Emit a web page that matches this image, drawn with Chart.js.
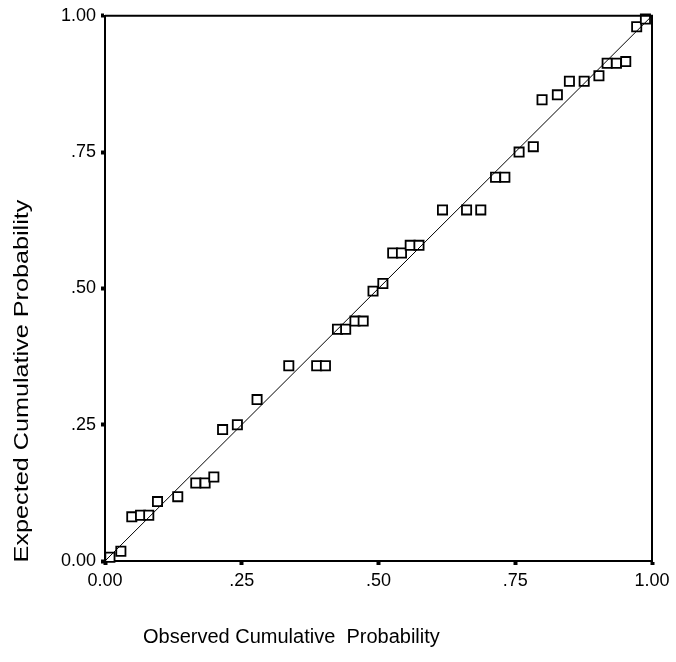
<!DOCTYPE html>
<html>
<head>
<meta charset="utf-8">
<script src="https://cdn.jsdelivr.net/npm/chart.js@4/dist/chart.umd.min.js"></script>
<style>
  html, body { margin: 0; padding: 0; background: #fff; }
  #wrap { width: 676px; height: 662px; position: relative; }
</style>
</head>
<body>
<div id="wrap"><canvas id="ppPlot"></canvas></div>
<script>
// Observed vs expected cumulative probability (P-P plot)
const observed = [
  0.009, 0.029, 0.049, 0.065, 0.080, 0.096, 0.133, 0.166, 0.183, 0.199,
  0.215, 0.242, 0.278, 0.336, 0.387, 0.403, 0.425, 0.440, 0.457, 0.472,
  0.490, 0.508, 0.526, 0.542, 0.558, 0.574, 0.617, 0.661, 0.687, 0.714,
  0.731, 0.757, 0.783, 0.799, 0.827, 0.849, 0.876, 0.903, 0.918, 0.935,
  0.952, 0.972, 0.988
];
const expected = [
  0.007, 0.018, 0.081, 0.084, 0.084, 0.109, 0.118, 0.143, 0.143, 0.154,
  0.241, 0.250, 0.296, 0.358, 0.358, 0.358, 0.425, 0.425, 0.440, 0.440,
  0.495, 0.509, 0.565, 0.565, 0.579, 0.579, 0.644, 0.644, 0.644, 0.704,
  0.704, 0.750, 0.760, 0.846, 0.855, 0.880, 0.880, 0.890, 0.913, 0.913,
  0.916, 0.980, 0.994
];
const tickLabels = ['0.00', '.25', '.50', '.75', '1.00'];
const xTitle = 'Observed Cumulative  Probability';
const yTitle = 'Expected Cumulative Probability';

const FONT = '"Liberation Sans", Arial, sans-serif';

const points = observed.map((x, i) => ({ x: x, y: expected[i] }));

// frame top/right edges and the axis titles sit outside what the scales draw
const framePlugin = {
    id: 'frameAndTitles',
    afterDraw(chart) {
        const { ctx, chartArea: a } = chart;
        ctx.save();
        ctx.strokeStyle = '#000';
        ctx.lineWidth = 2;
        ctx.beginPath();
        ctx.moveTo(a.left, a.top);
        ctx.lineTo(a.right, a.top);
        ctx.lineTo(a.right, a.bottom);
        ctx.stroke();

        ctx.fillStyle = '#000';
        ctx.font = '20px ' + FONT;
        ctx.textBaseline = 'middle';
        ctx.textAlign = 'left';
        ctx.fillText(xTitle, 143, 637);

        // scanned original: the vertical title runs longer than the bottom one
        ctx.font = '21px ' + FONT;
        ctx.translate(22, 381);
        ctx.rotate(-Math.PI / 2);
        ctx.scale(1.2, 1);
        ctx.textAlign = 'center';
        ctx.fillText(yTitle, 0, 0);
        ctx.restore();
    }
};

const axisCommon = {
    type: 'linear',
    min: 0,
    max: 1,
    grid: {
        drawOnChartArea: false,
        drawTicks: true,
        tickLength: 4,
        tickWidth: 4,
        tickColor: '#000'
    },
    border: { display: true, color: '#000', width: 2 },
    ticks: {
        stepSize: 0.25,
        color: '#000',
        padding: 5,
        font: { family: FONT, size: 18 },
        maxRotation: 0,
        callback: (val) => tickLabels[Math.round(val * 4)]
    }
};

new Chart(document.getElementById('ppPlot'), {
    data: {
        datasets: [
            {
                type: 'line',
                data: [{ x: 0, y: 0 }, { x: 1, y: 1 }],
                borderColor: '#000',
                borderWidth: 1,
                pointRadius: 0
            },
            {
                type: 'scatter',
                data: points,
                pointStyle: 'rect',
                pointRadius: 6.5,
                pointBorderWidth: 1.8,
                pointBorderColor: '#000',
                pointBackgroundColor: '#fff',
                clip: false
            }
        ]
    },
    options: {
        responsive: true,
        maintainAspectRatio: false,
        animation: false,
        layout: { padding: { left: 0, top: 15, right: 24, bottom: 0 } },
        plugins: {
            legend: { display: false },
            tooltip: { enabled: false }
        },
        scales: {
            x: Object.assign({}, axisCommon, {
                afterFit: (scale) => { scale.height = 101; }
            }),
            y: Object.assign({}, axisCommon, {
                afterFit: (scale) => { scale.width = 105; }
            })
        }
    },
    plugins: [framePlugin]
});
</script>
</body>
</html>
